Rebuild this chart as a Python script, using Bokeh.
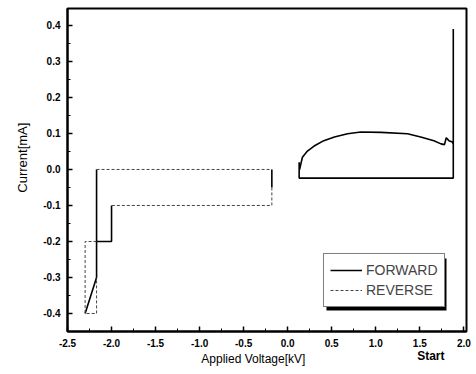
import math
from bokeh.plotting import figure
from bokeh.models import FixedTicker, NumeralTickFormatter, BoxAnnotation, Range1d, LinearAxis
from bokeh.embed import file_html
from bokeh.resources import INLINE

nan = float("nan")

# FORWARD sweep (solid)
fwd_v = [1.88, 1.88, 0.13, 0.13, 0.135, 0.167, 0.224, 0.30, 0.41, 0.53, 0.68, 0.83, 1.06, 1.36,
         1.51, 1.66, 1.74, 1.78, 1.80, 1.83, 1.87, 1.88,
         nan, -0.18, -0.18,
         nan, -2.0, -2.0, -2.17, -2.17,
         nan, -2.17, -2.17, -2.30]
fwd_i = [0.39, -0.024, -0.024, 0.02, 0.0, 0.034, 0.051, 0.065, 0.08, 0.09, 0.099, 0.104, 0.103, 0.099,
         0.09, 0.08, 0.071, 0.069, 0.088, 0.08, 0.076, 0.07,
         nan, 0.0, -0.05,
         nan, -0.1, -0.2, -0.2, 0.0,
         nan, -0.2, -0.3, -0.4]

# REVERSE sweep (dotted)
rev_v = [-0.18, -0.18, -2.0, nan, -2.17, -0.18, nan, -2.17, -2.30, -2.30, -2.17, -2.17]
rev_i = [-0.05, -0.1, -0.1, nan, 0.0, 0.0, nan, -0.2, -0.2, -0.4, -0.4, -0.3]

x_ticks = [-2.5, -2.0, -1.5, -1.0, -0.5, 0.0, 0.5, 1.0, 1.5, 2.0]
x_minor = [-2.25, -1.75, -1.25, -0.75, -0.25, 0.25, 0.75, 1.25, 1.75]
y_ticks = [-0.4, -0.3, -0.2, -0.1, 0.0, 0.1, 0.2, 0.3, 0.4]
y_minor = [-0.45, -0.35, -0.25, -0.15, -0.05, 0.05, 0.15, 0.25, 0.35]

x_title = "Applied Voltage[kV]"
x_note = "Start"
y_title = "Current[mA]"

FONT = "Liberation Sans"

p = figure(width=476, height=374, output_backend="svg", toolbar_location=None,
           x_range=Range1d(-2.5, 2.03), y_range=Range1d(-0.45, 0.447),
           min_border_left=67, min_border_right=10, min_border_top=8, min_border_bottom=43)
p.xgrid.visible = False
p.ygrid.visible = False
p.outline_line_color = "black"
p.outline_line_width = 2
p.background_fill_color = "white"
p.border_fill_color = "white"

for ax, ticks, minor in ((p.xaxis[0], x_ticks, x_minor), (p.yaxis[0], y_ticks, y_minor)):
    ax.ticker = FixedTicker(ticks=ticks, minor_ticks=minor)
    ax.formatter = NumeralTickFormatter(format="0.0")
    ax.axis_line_width = 2
    ax.axis_line_color = "black"
    ax.major_tick_in = 5
    ax.major_tick_out = 0
    ax.minor_tick_in = 3
    ax.minor_tick_out = 0
    ax.major_tick_line_width = 1.5
    ax.major_label_text_font = FONT
    ax.major_label_text_font_style = "bold"
    ax.major_label_text_font_size = "10px"
    ax.major_label_text_color = "black"
    ax.major_label_standoff = 7


def label_axis(ticks, overrides, standoff, orientation="horizontal", style="normal", size="12px"):
    return LinearAxis(ticker=FixedTicker(ticks=ticks, minor_ticks=[]),
                      major_label_overrides=overrides,
                      axis_line_color=None, major_tick_line_color=None, minor_tick_line_color=None,
                      major_tick_in=0, major_tick_out=0, minor_tick_in=0, minor_tick_out=0,
                      major_label_text_font=FONT, major_label_text_font_size=size,
                      major_label_text_font_style=style,
                      major_label_text_color="black", major_label_standoff=standoff,
                      major_label_orientation=orientation)


p.add_layout(label_axis([-0.39], {-0.39: x_title}, 2), "below")
p.add_layout(label_axis([1.625], {1.625: x_note}, -20, style="bold"), "below")
p.add_layout(label_axis([0.13], {0.13: y_title}, 18, math.pi / 2, size="13px"), "left")

# legend shadow
p.add_layout(BoxAnnotation(left=0.440, right=1.803, top=-0.247, bottom=-0.392,
                           fill_color="black", fill_alpha=1.0, line_color=None))

p.line(fwd_v, fwd_i, line_color="black", line_width=1.6, legend_label="FORWARD")
p.line(rev_v, rev_i, line_color="#444444", line_width=1, line_dash="3 2", legend_label="REVERSE")

lg = p.legend[0]
lg.location = (256, 24)
lg.border_line_color = "black"
lg.border_line_width = 1
lg.background_fill_alpha = 1.0
lg.padding = 6
lg.spacing = 0
lg.margin = 0
lg.glyph_width = 32
lg.label_standoff = 4
lg.label_text_font = FONT
lg.label_text_font_size = "14px"
lg.label_height = 20
lg.glyph_height = 20

open("out.html", "w").write(file_html(p, INLINE))
